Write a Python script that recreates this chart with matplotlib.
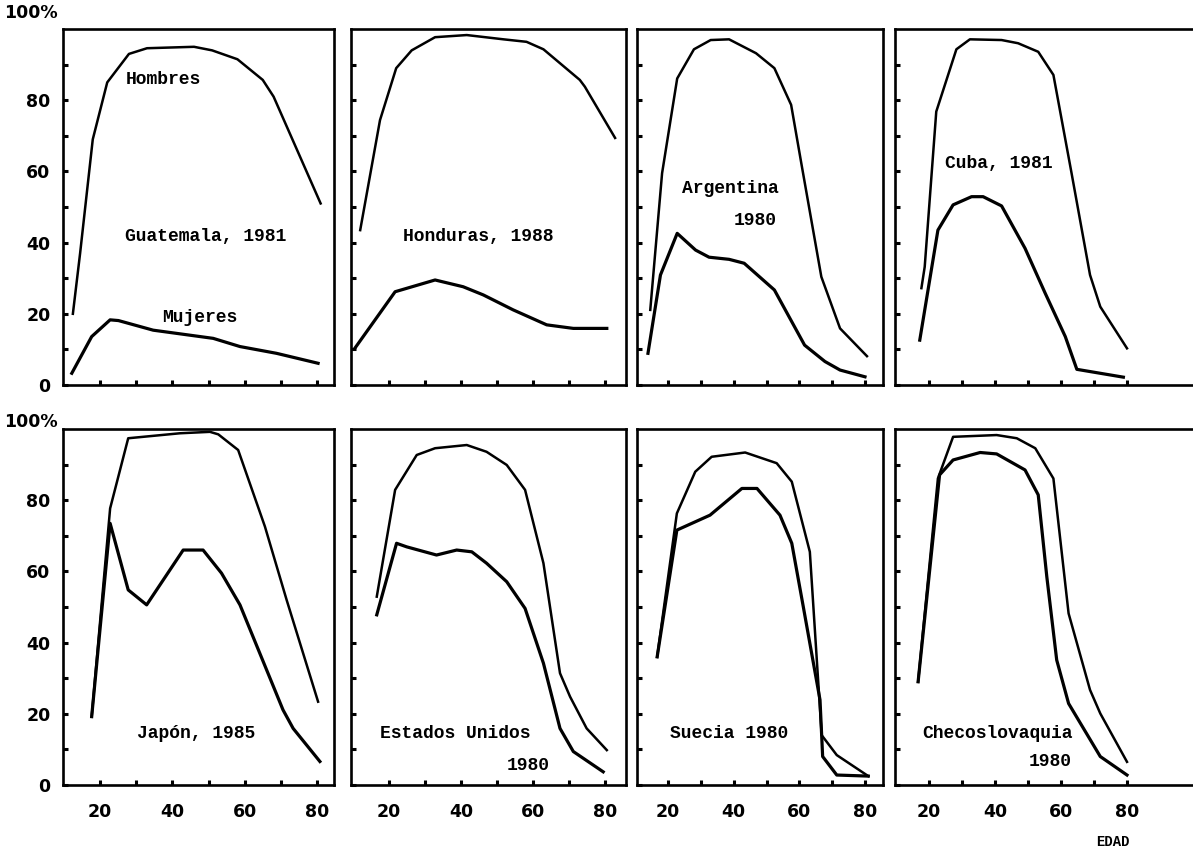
import matplotlib.pyplot as plt

#********************************************************************************
# Datos: edad (x) y tasa de actividad en % (y)
#********************************************************************************
# Guatemala, 1981
guat_edad_h = [12.5, 14.5, 18, 22, 28, 33, 46, 51, 58, 65, 68, 81]
guat_h      = [20, 37, 69, 85, 93, 94.6, 95, 94, 91.5, 85.7, 81, 51]
guat_edad_m = [12.2, 17.7, 22.8, 25.1, 34.7, 51.3, 58.7, 68.8, 80.3]
guat_m      = [3.3, 13.6, 18.3, 18.1, 15.4, 13.1, 10.8, 8.9, 6.1]

# Honduras, 1988
hond_edad_h = [12, 17.5, 22, 26.3, 32.8, 41.6, 51.8, 58.2, 62.9, 73, 74.4, 82.8]
hond_h      = [43.5, 74.4, 89, 94, 97.7, 98.3, 97.1, 96.4, 94.3, 85.7, 83.8, 69.4]
hond_edad_m = [10.5, 21.7, 32.8, 40.6, 46.2, 54.5, 63.8, 71.2, 80.5]
hond_m      = [10.3, 26.2, 29.5, 27.6, 25.3, 21.1, 16.9, 15.9, 15.9]

# Argentina, 1980
arg_edad_h = [14.6, 18.2, 22.8, 27.9, 33, 38.6, 46.8, 52.4, 57.5, 60.6, 66.7, 72.4, 80.6]
arg_h      = [21.1, 59.5, 86.1, 94.3, 96.9, 97.1, 93.2, 89, 78.7, 62.3, 30.4, 15.9, 8.1]
arg_edad_m = [13.9, 17.7, 22.8, 28.4, 32.5, 38.6, 43.2, 52.4, 61.6, 67.8, 72.4, 80]
arg_m      = [8.9, 30.9, 42.6, 37.9, 35.9, 35.3, 34.2, 26.7, 11.2, 6.6, 4.2, 2.3]

# Cuba, 1981
cuba_edad_h = [17.7, 18.7, 22.2, 28.3, 32.4, 42, 47, 53.1, 57.7, 63.2, 68.8, 71.9, 80]
cuba_h      = [27.2, 33.2, 76.8, 94.3, 97.1, 96.9, 96, 93.6, 87.1, 59.5, 30.9, 22, 10.3]
cuba_edad_m = [17.2, 22.7, 27.3, 32.9, 36.4, 42, 49.1, 55.2, 61.3, 64.8, 78.9]
cuba_m      = [12.6, 43.5, 50.6, 52.9, 52.9, 50.3, 38.4, 25.8, 13.6, 4.4, 2.2]

# Japon, 1985
jap_edad_h = [17.7, 22.8, 27.8, 42.1, 50.4, 52.7, 58.2, 65.6, 71.6, 80.3]
jap_h      = [19.2, 77.7, 97.4, 98.8, 99.2, 98.5, 94.1, 72.6, 52, 23.4]
jap_edad_m = [17.7, 22.8, 27.8, 32.9, 43, 48.5, 53.6, 58.7, 70.6, 73.4, 80.8]
jap_m      = [19.2, 73.5, 54.8, 50.6, 66, 66, 59.5, 50.6, 21.1, 15.9, 6.6]

# Estados Unidos, 1980
eeuu_edad_h = [16.6, 21.7, 27.7, 32.8, 41.6, 47.1, 52.7, 57.8, 62.9, 67.5, 70.3, 74.9, 80.5]
eeuu_h      = [52.9, 82.9, 92.7, 94.6, 95.5, 93.6, 89.9, 82.9, 62.3, 31.4, 24.8, 15.9, 9.8]
eeuu_edad_m = [16.6, 22.1, 24.9, 33.2, 38.8, 43, 47.1, 52.7, 57.8, 62.9, 67.5, 71.2, 79.5]
eeuu_m      = [47.8, 67.9, 66.9, 64.6, 66, 65.5, 62.3, 57.1, 49.6, 34.2, 15.9, 9.4, 3.7]

# Suecia, 1980
suec_edad_h = [16.7, 22.7, 28.3, 33.3, 43.5, 53.1, 57.7, 63.2, 66.8, 71.4, 81]
suec_h      = [36, 76.3, 88, 92.2, 93.4, 90.4, 85.2, 65.5, 14, 8.4, 2.5]
suec_edad_m = [16.7, 22.7, 32.8, 42.5, 47.1, 54.1, 57.7, 61.2, 66.3, 67.1, 71.4, 81]
suec_m      = [36, 71.6, 75.8, 83.3, 83.3, 75.8, 67.9, 50.1, 23.9, 8, 2.8, 2.5]

# Checoslovaquia, 1980
chec_edad_h = [16.7, 22.7, 27.3, 40.5, 46.6, 52.2, 57.7, 62.3, 68.8, 71.9, 80]
chec_h      = [29, 86.1, 97.8, 98.3, 97.4, 94.6, 86.1, 48.2, 26.7, 20.1, 6.5]
chec_edad_m = [16.7, 23.2, 27.3, 35.5, 40.5, 49.1, 53.1, 55.7, 58.7, 62.3, 71.9, 80]
chec_m      = [29, 87.1, 91.3, 93.4, 93, 88.5, 81.5, 58.5, 35.1, 22.9, 8, 2.8]

# Rotulos de cada panel (primera linea) y año en segunda linea, si lo hay
paises = ["Guatemala, 1981", "Honduras, 1988", "Argentina", "Cuba, 1981",
          "Japón, 1985", "Estados Unidos", "Suecia 1980", "Checoslovaquia"]
segunda_linea = [None, None, "1980", None, None, "1980", None, "1980"]

series = [(guat_edad_h, guat_h, guat_edad_m, guat_m),
          (hond_edad_h, hond_h, hond_edad_m, hond_m),
          (arg_edad_h, arg_h, arg_edad_m, arg_m),
          (cuba_edad_h, cuba_h, cuba_edad_m, cuba_m),
          (jap_edad_h, jap_h, jap_edad_m, jap_m),
          (eeuu_edad_h, eeuu_h, eeuu_edad_m, eeuu_m),
          (suec_edad_h, suec_h, suec_edad_m, suec_m),
          (chec_edad_h, chec_h, chec_edad_m, chec_m)]

#********************************************************************************
# Disposicion de los paneles (en pixeles del escaneo)
#********************************************************************************
W, H = 1193, 852
# izquierda, derecha, pixel de la edad 20, pixel de la edad 80
columnas = [(63, 334, 100, 317),
            (351, 626, 389, 605),
            (637, 883, 668, 865),
            (895, 1205, 929, 1127)]
filas = [(29, 385), (429, 785)]   # arriba, abajo

# posicion del rotulo (izquierda, centro vertical) y de la segunda linea (derecha)
pos_rotulo = [(26.9, 41.6), (23.9, 41.6), (24.2, 55.3), (24.8, 62.3),
              (30.2, 14.6), (17.5, 14.6), (20.7, 14.6), (18.1, 14.6)]
pos_linea2 = [None, None, (53.1, 46.3), None, None, (64.7, 5.6), None, (63.4, 6.5)]

fuente_txt = dict(family='Liberation Mono', fontweight='bold', fontsize=13)
fuente_num = dict(family='DejaVu Sans', fontweight='bold', fontsize=12.5)

fig = plt.figure(figsize=(W / 100, H / 100), dpi=100)

for k in range(8):
    fila = k // 4
    col = k % 4
    izq, der, p20, p80 = columnas[col]
    arr, aba = filas[fila]
    ax = fig.add_axes([izq / W, 1 - aba / H, (der - izq) / W, (aba - arr) / H])
    escala = 60.0 / (p80 - p20)
    ax.set_xlim(20 - (p20 - izq) * escala, 80 + (der - p80) * escala)
    ax.set_ylim(0, 100)

    eh, vh, em, vm = series[k]
    ax.plot(eh, vh, color='black', linewidth=1.8)   # Hombres
    ax.plot(em, vm, color='black', linewidth=2.3)   # Mujeres

    for s in ax.spines.values():
        s.set_linewidth(1.9)

    ax.set_yticks([0, 20, 40, 60, 80])
    ax.set_yticks([10, 30, 50, 70, 90], minor=True)
    ax.set_xticks([20, 40, 60, 80])
    ax.set_xticks([30, 50, 70], minor=True)
    ax.tick_params(which='both', direction='in', length=3.5, width=2.2,
                   top=False, right=False)
    ax.tick_params(axis='y', pad=9)
    ax.tick_params(axis='x', pad=13)

    if col == 0:
        ax.set_yticklabels(['0', '20', '40', '60', '80'], **fuente_num)
        ax.text(-0.12, 1.045 if fila == 0 else 1.02, '100%', transform=ax.transAxes,
                ha='center', va='center', **fuente_num)
    else:
        ax.set_yticklabels([])
    if fila == 1:
        ax.set_xticklabels(['20', '40', '60', '80'], **fuente_num)
    else:
        ax.set_xticklabels([])

    tx, ty = pos_rotulo[k]
    ax.text(tx, ty, paises[k], ha='left', va='center', **fuente_txt)
    if segunda_linea[k] is not None:
        lx, ly = pos_linea2[k]
        ax.text(lx, ly, segunda_linea[k], ha='right', va='center', **fuente_txt)

    if k == 0:
        ax.text(27.2, 85.7, 'Hombres', ha='left', va='center', **fuente_txt)
        ax.text(47.6, 19.1, 'Mujeres', ha='center', va='center', **fuente_txt)

fig.text(1113 / W, 1 - 842 / H, 'EDAD', ha='center', va='center',
         family='Liberation Mono', fontweight='bold', fontsize=10)

fig.savefig('out.png', dpi=100)
